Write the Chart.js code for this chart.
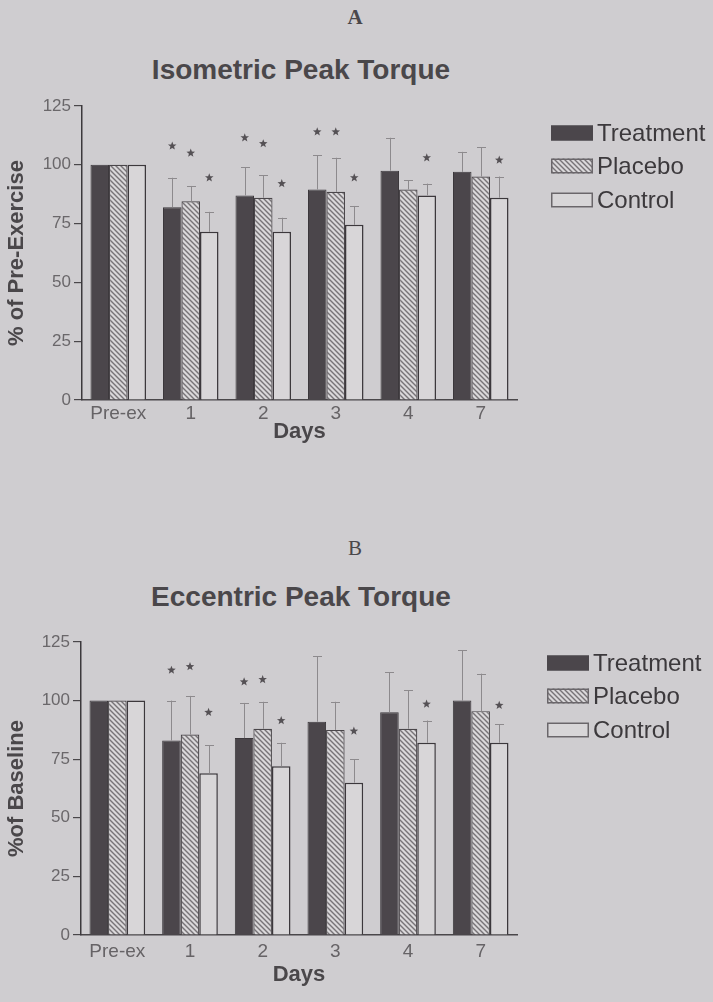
<!DOCTYPE html>
<html>
<head>
<meta charset="utf-8">
<script src="https://cdn.jsdelivr.net/npm/chart.js@4.4.1/dist/chart.umd.min.js"></script>
<style>
  html, body { margin: 0; padding: 0; background: #cfcdd0; }
  #wrap { position: relative; width: 713px; height: 1002px; overflow: hidden; background: #cfcdd0; }
  canvas { position: absolute; left: 0; }
  .t { position: absolute; text-align: center; white-space: nowrap; color: #4a474a; line-height: 1; }
  .panel { font-family: "Liberation Serif", "DejaVu Serif", serif; font-size: 21px; width: 60px; left: 325px; }
  .title { font-family: "Liberation Sans", Arial, sans-serif; font-weight: bold; font-size: 28px; width: 400px; left: 101px; }
</style>
</head>
<body>
<div id="wrap">
  <div class="t panel" style="top:7px;font-weight:bold;">A</div>
  <div class="t title" style="top:56px;">Isometric Peak Torque</div>
  <canvas id="cA" width="713" height="500" style="top:0px;"></canvas>
  <div class="t panel" style="top:538px;">B</div>
  <div class="t title" style="top:583px;">Eccentric Peak Torque</div>
  <canvas id="cB" width="713" height="502" style="top:500px;"></canvas>
</div>
<script>
// ---------- data ----------
const categories = ['Pre-ex', '1', '2', '3', '4', '7'];
const seriesNames = ['Treatment', 'Placebo', 'Control'];
const yTicks = [0, 25, 50, 75, 100, 125];

// Panel A: Isometric Peak Torque (% of Pre-Exercise)
const isoTreatment    = [100, 82, 87, 89.5, 97.5, 97];
const isoPlacebo      = [100, 84.5, 86, 88.5, 89.5, 95];
const isoControl      = [100, 71.5, 71.5, 74.5, 87, 86];
const isoTreatmentErr = [0, 12.5, 12, 14.5, 14, 8.5];
const isoPlaceboErr   = [0, 6.5, 9.5, 14.5, 4, 12.5];
const isoControlErr   = [0, 8.5, 6, 8, 5, 9];
const isoTreatmentStar = [null, 108, 111.5, 114, null, null];
const isoPlaceboStar   = [null, 105, 109, 114, null, null];
const isoControlStar   = [null, 94.5, 92, 94.5, 103, 102];

// Panel B: Eccentric Peak Torque (% of Baseline)
const eccTreatment    = [100, 83, 84, 91, 95, 100];
const eccPlacebo      = [100, 85.5, 88, 87.5, 88, 95.5];
const eccControl      = [100, 69, 72, 65, 82, 82];
const eccTreatmentErr = [0, 17, 15, 28, 17, 21.5];
const eccPlaceboErr   = [0, 16.5, 11.5, 12, 16.5, 16];
const eccControlErr   = [0, 12, 10, 10, 9.5, 8];
const eccTreatmentStar = [null, 113, 108, null, null, null];
const eccPlaceboStar   = [null, 114.5, 109, null, null, null];
const eccControlStar   = [null, 95, 91.5, 87, 98.5, 98];

// ---------- styles ----------
const FONT = '"Liberation Sans", Arial, sans-serif';
const TREAT_FILL = '#4b464b';
const CONTROL_FILL = '#d8d6d8';
const BAR_BORDER = '#3c383c';

function hatchPattern() {
  const s = 5;
  const c = document.createElement('canvas');
  c.width = s; c.height = s;
  const g = c.getContext('2d');
  g.fillStyle = '#dad8da';
  g.fillRect(0, 0, s, s);
  g.strokeStyle = '#777377';
  g.lineWidth = 1.4;
  g.beginPath();
  g.moveTo(0, 0); g.lineTo(s, s);
  g.moveTo(-1, s - 1); g.lineTo(1, s + 1);
  g.moveTo(s - 1, -1); g.lineTo(s + 1, 1);
  g.stroke();
  return g.createPattern(c, 'repeat');
}
const HATCH = hatchPattern();

// ---------- plugins ----------
const errorStarPlugin = {
  id: 'errorStars',
  afterDatasetsDraw(chart) {
    const ctx = chart.ctx;
    const y = chart.scales.y;
    chart.data.datasets.forEach((ds, i) => {
      const meta = chart.getDatasetMeta(i);
      meta.data.forEach((el, j) => {
        const err = ds.errs[j];
        if (err) {
          const top = y.getPixelForValue(ds.data[j] + err);
          ctx.save();
          ctx.strokeStyle = '#8d8a8d';
          ctx.lineWidth = 1;
          ctx.beginPath();
          ctx.moveTo(Math.round(el.x) + 0.5, el.y);
          ctx.lineTo(Math.round(el.x) + 0.5, top);
          ctx.moveTo(Math.round(el.x) - 4, Math.round(top) + 0.5);
          ctx.lineTo(Math.round(el.x) + 5, Math.round(top) + 0.5);
          ctx.stroke();
          ctx.restore();
        }
        const st = ds.stars[j];
        if (st != null) {
          const cy = y.getPixelForValue(st);
          drawStar(ctx, el.x, cy, 4.5, 1.9);
        }
      });
    });
  }
};
function drawStar(ctx, cx, cy, R, r) {
  ctx.save();
  ctx.fillStyle = '#555155';
  ctx.beginPath();
  for (let k = 0; k < 10; k++) {
    const ang = -Math.PI / 2 + k * Math.PI / 5;
    const rad = k % 2 === 0 ? R : r;
    const px = cx + rad * Math.cos(ang), py = cy + rad * Math.sin(ang);
    if (k === 0) ctx.moveTo(px, py); else ctx.lineTo(px, py);
  }
  ctx.closePath();
  ctx.fill();
  ctx.restore();
}
const sideLegendPlugin = {
  id: 'sideLegend',
  afterDraw(chart, args, opts) {
    const ctx = chart.ctx;
    chart.data.datasets.forEach((ds, i) => {
      const cy = opts.rows[i];
      const x = opts.x, w = 42, h = 15;
      ctx.save();
      ctx.fillStyle = ds.backgroundColor;
      ctx.fillRect(x, cy - h / 2, w, h);
      ctx.strokeStyle = ds.legendBorder;
      ctx.lineWidth = 1.5;
      ctx.strokeRect(x + 0.75, cy - h / 2 + 0.75, w - 1.5, h - 1.5);
      ctx.fillStyle = '#3c393c';
      ctx.font = '24px ' + FONT;
      ctx.textBaseline = 'middle';
      ctx.textAlign = 'left';
      ctx.fillText(ds.label, x + w + 4, cy + 1);
      ctx.restore();
    });
  }
};

function makeChart(id, cfg) {
  const datasets = [
    { label: seriesNames[0], data: cfg.t, errs: cfg.te, stars: cfg.ts,
      backgroundColor: TREAT_FILL, borderColor: BAR_BORDER, legendBorder: TREAT_FILL, borderWidth: 1 },
    { label: seriesNames[1], data: cfg.p, errs: cfg.pe, stars: cfg.ps,
      backgroundColor: HATCH, borderColor: '#4a464a', legendBorder: '#6a666a', borderWidth: 1.2 },
    { label: seriesNames[2], data: cfg.c, errs: cfg.ce, stars: cfg.cs,
      backgroundColor: CONTROL_FILL, borderColor: BAR_BORDER, legendBorder: '#6a666a', borderWidth: 1.5 }
  ];
  return new Chart(document.getElementById(id), {
    type: 'bar',
    data: { labels: categories, datasets },
    plugins: [errorStarPlugin, sideLegendPlugin],
    options: {
      responsive: false,
      animation: false,
      devicePixelRatio: 1,
      layout: { padding: { left: 0, right: cfg.padRight, top: cfg.padTop, bottom: cfg.padBottom } },
      datasets: { bar: { categoryPercentage: 0.766, barPercentage: 1, borderSkipped: 'start' } },
      plugins: {
        legend: { display: false },
        tooltip: { enabled: false },
        sideLegend: { x: cfg.legendX, rows: cfg.legendRows }
      },
      scales: {
        x: {
          grid: { display: false, drawTicks: false },
          border: { display: true, color: '#4a474a', width: 1.5 },
          ticks: { color: '#666366', font: { family: FONT, size: 19 }, padding: cfg.xTickPad, autoSkip: false, maxRotation: 0 },
          title: { display: true, text: 'Days', color: '#4a474a', font: { family: FONT, size: 22, weight: 'bold' }, padding: { top: 0, bottom: 0 } },
          afterFit(s) { s.height = cfg.xAxisH; }
        },
        y: {
          min: 0, max: 125,
          afterBuildTicks(s) { s.ticks = yTicks.map(v => ({ value: v })); },
          ticks: { color: '#6a676a', font: { family: FONT, size: 17 }, padding: 3 },
          grid: { drawOnChartArea: false, drawTicks: true, tickLength: 8, color: '#4a474a', lineWidth: 1.2 },
          border: { display: true, color: '#3c393c', width: 1.5 },
          title: { display: true, text: cfg.yTitle, color: '#4a474a', font: { family: FONT, size: 22, weight: 'bold' }, padding: { top: 4, bottom: 0 } },
          afterFit(s) { s.width = cfg.yAxisW; }
        }
      }
    }
  });
}

makeChart('cA', {
  t: isoTreatment, p: isoPlacebo, c: isoControl,
  te: isoTreatmentErr, pe: isoPlaceboErr, ce: isoControlErr,
  ts: isoTreatmentStar, ps: isoPlaceboStar, cs: isoControlStar,
  yTitle: '% of Pre-Exercise',
  padTop: 106, padRight: 196, padBottom: 55, xAxisH: 45, yAxisW: 82, xTickPad: 2,
  legendX: 551, legendRows: [133, 166, 200]
});
makeChart('cB', {
  t: eccTreatment, p: eccPlacebo, c: eccControl,
  te: eccTreatmentErr, pe: eccPlaceboErr, ce: eccControlErr,
  ts: eccTreatmentStar, ps: eccPlaceboStar, cs: eccControlStar,
  yTitle: '%of Baseline',
  padTop: 142, padRight: 196, padBottom: 14, xAxisH: 53, yAxisW: 81, xTickPad: 5,
  legendX: 547, legendRows: [163, 196, 230]
});
</script>
</body>
</html>
